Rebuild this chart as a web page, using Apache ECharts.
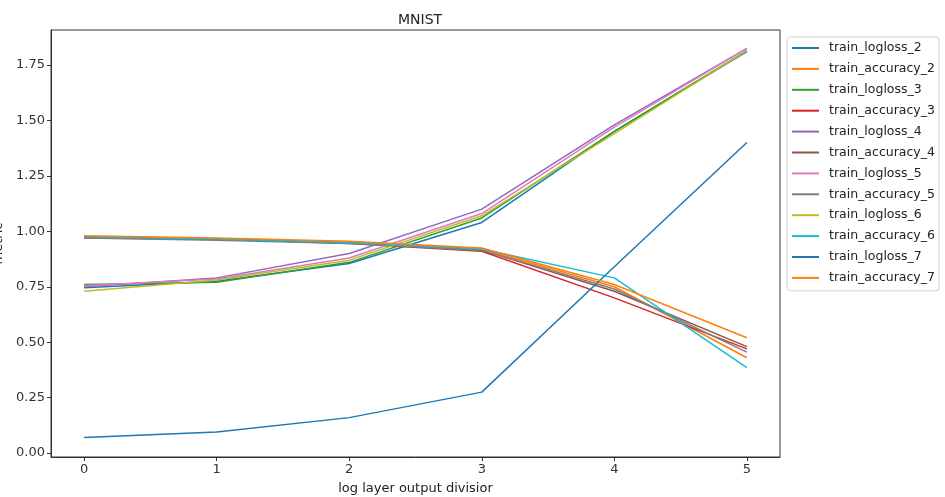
<!DOCTYPE html>
<html>
<head>
<meta charset="utf-8">
<script src="https://cdn.jsdelivr.net/npm/echarts@6/dist/echarts.min.js"></script>
<style>
  html, body { margin: 0; padding: 0; background: #fff; }
  #chart { width: 945px; height: 497px; }
</style>
</head>
<body>
<div id="chart"></div>
<script>
// x positions (log layer output divisior)
const xValues = [0, 1, 2, 3, 4, 5]
const yTicks = [0, 0.25, 0.5, 0.75, 1.0, 1.25, 1.5, 1.75]

const seriesNames = [
  'train_logloss_2', 'train_accuracy_2',
  'train_logloss_3', 'train_accuracy_3',
  'train_logloss_4', 'train_accuracy_4',
  'train_logloss_5', 'train_accuracy_5',
  'train_logloss_6', 'train_accuracy_6',
  'train_logloss_7', 'train_accuracy_7',
]

// matplotlib tab10 cycle
const seriesColors = [
  '#1f77b4', '#ff7f0e', '#2ca02c', '#d62728', '#9467bd', '#8c564b',
  '#e377c2', '#7f7f7f', '#bcbd22', '#17becf', '#1f77b4', '#ff7f0e',
]

const logloss2 = [0.745, 0.775, 0.855, 1.04, 1.45, 1.81]
const accuracy2 = [0.975, 0.965, 0.95, 0.92, 0.75, 0.43]
const logloss3 = [0.76, 0.77, 0.86, 1.06, 1.45, 1.815]
const accuracy3 = [0.97, 0.965, 0.945, 0.91, 0.70, 0.47]
const logloss4 = [0.75, 0.79, 0.90, 1.10, 1.48, 1.825]
const accuracy4 = [0.975, 0.965, 0.95, 0.915, 0.73, 0.48]
const logloss5 = [0.755, 0.785, 0.88, 1.08, 1.47, 1.825]
const accuracy5 = [0.97, 0.96, 0.945, 0.915, 0.74, 0.455]
const logloss6 = [0.73, 0.78, 0.87, 1.07, 1.44, 1.815]
const accuracy6 = [0.975, 0.965, 0.95, 0.92, 0.79, 0.385]
const logloss7 = [0.07, 0.095, 0.16, 0.275, 0.84, 1.40]
const accuracy7 = [0.98, 0.97, 0.955, 0.925, 0.76, 0.52]

const seriesValues = [
  logloss2, accuracy2, logloss3, accuracy3, logloss4, accuracy4,
  logloss5, accuracy5, logloss6, accuracy6, logloss7, accuracy7,
]

const font = 'DejaVu Sans'
const chart = echarts.init(document.getElementById('chart'))

chart.setOption({
  animation: false,
  textStyle: { fontFamily: font },
  title: {
    text: 'MNIST',
    left: 393,
    top: 8,
    textStyle: { fontFamily: font, fontSize: 14, fontWeight: 'normal', color: '#222' },
  },
  legend: {
    orient: 'vertical',
    left: 787,
    top: 37,
    padding: [4, 4, 6, 5],
    icon: 'rect',
    itemWidth: 27,
    itemHeight: 2,
    itemGap: 6.9,
    borderColor: '#d0d0d0',
    borderWidth: 1,
    borderRadius: 3,
    data: seriesNames,
    textStyle: { fontFamily: font, fontSize: 12.5, lineHeight: 14, color: '#222', padding: [0, 0, 0, 5] },
  },
  grid: {
    left: 51,
    right: 165,
    top: 30,
    bottom: 40,
    outerBoundsMode: 'none',
    containLabel: false,
    show: true,
    borderColor: '#333',
    borderWidth: 1,
  },
  xAxis: {
    type: 'value',
    min: -0.25,
    max: 5.25,
    name: 'log layer output divisior',
    nameLocation: 'middle',
    nameGap: 25,
    nameTextStyle: { fontFamily: font, fontSize: 13, color: '#222' },
    axisLine: { show: true, onZero: false, lineStyle: { color: '#333' } },
    axisTick: { show: true, customValues: xValues, length: 4, lineStyle: { color: '#333' } },
    axisLabel: { customValues: xValues, fontFamily: font, fontSize: 13, color: '#333', margin: 6 },
    splitLine: { show: false },
  },
  yAxis: {
    type: 'value',
    min: -0.0175,
    max: 1.9075,
    name: 'metric',
    nameLocation: 'middle',
    nameGap: 41,
    nameTextStyle: { fontFamily: font, fontSize: 13, color: '#222' },
    axisLine: { show: true, onZero: false, lineStyle: { color: '#333' } },
    axisTick: { show: true, customValues: yTicks, length: 4, lineStyle: { color: '#333' } },
    axisLabel: {
      customValues: yTicks,
      fontFamily: font,
      fontSize: 13,
      color: '#333',
      margin: 6,
      formatter: (v) => v.toFixed(2),
    },
    splitLine: { show: false },
  },
  series: seriesNames.map((name, i) => ({
    name,
    type: 'line',
    symbol: 'none',
    color: seriesColors[i],
    lineStyle: { width: 1.5, color: seriesColors[i] },
    data: xValues.map((x, j) => [x, seriesValues[i][j]]),
  })),
})
</script>
</body>
</html>
